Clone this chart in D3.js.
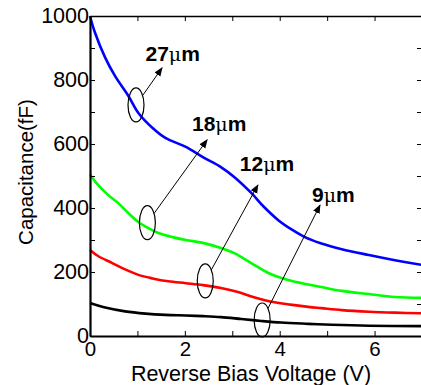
<!DOCTYPE html>
<html>
<head>
<meta charset="utf-8">
<script src="https://cdn.jsdelivr.net/npm/d3@7"></script>
<style>
  body { margin: 0; background: #fff; }
  svg { display: block; }
  text { font-family: "Liberation Sans", Arial, sans-serif; }
</style>
</head>
<body>
<div id="chart"></div>
<script>
// data (V, fF)
const voltsBlue  = [0, 0.1, 0.32, 0.53, 0.81, 1.02, 1.32, 1.59, 2.02, 2.38, 2.76, 3.04, 3.4, 3.67, 3.97, 4.25, 4.52, 4.88, 5.31, 5.88, 6.43, 7];
const capBlue    = [1000, 950, 870, 812, 750, 697, 650, 619, 591, 559, 528, 497, 447, 403, 362, 333, 310, 289, 271, 253, 237, 222];

const voltsGreen = [0, 0.17, 0.38, 0.59, 0.81, 1.02, 1.23, 1.44, 1.74, 2.02, 2.38, 2.76, 3.04, 3.4, 3.76, 4.18, 4.6, 4.88, 5.31, 5.88, 6.43, 7];
const capGreen   = [505, 472, 441, 416, 384, 356, 337, 322, 309, 300, 291, 275, 259, 228, 197, 175, 161, 153, 141, 131, 122, 119];

const voltsRed   = [0, 0.17, 0.47, 0.74, 1.02, 1.32, 1.65, 2.02, 2.38, 2.76, 3.1, 3.44, 3.8, 4.22, 4.6, 4.88, 5.31, 5.88, 6.43, 7];
const capRed     = [269, 250, 228, 208, 191, 180, 171, 165, 159, 150, 138, 122, 108, 98, 91, 87, 81, 76, 73, 71];

const voltsBlack = [0, 0.32, 0.74, 1.17, 1.59, 2.02, 2.38, 2.76, 3.19, 3.61, 4.03, 4.6, 5.1, 5.88, 7];
const capBlack   = [103, 89, 77, 70, 66, 64, 62, 59, 53, 47, 42, 38, 35, 32, 31];

const seriesColors = ["#0000ff", "#00ff00", "#ff0000", "#000000"];

// annotations: label, ellipse centre (V, fF), arrow head (V, fF), label anchor (V, fF)
const annoLabels = ["27", "18", "12", "9"];
const annoEllipse = [[0.97, 722], [1.21, 354], [2.43, 172], [3.63, 50]];
const annoArrow   = [[1.52, 838], [2.47, 613], [3.54, 472], [4.85, 409]];
const annoText    = [[1.17, 860], [2.15, 641], [3.16, 517], [4.68, 419]];

const xTicks = [0, 1, 2, 3, 4, 5, 6, 7];
const yTicks = [0, 100, 200, 300, 400, 500, 600, 700, 800, 900, 1000];

const W = 421, H = 385;
const x = d3.scaleLinear().domain([0, 7]).range([90, 422]);
const y = d3.scaleLinear().domain([0, 1000]).range([336, 16]);

const svg = d3.select("#chart").append("svg")
  .attr("width", W).attr("height", H);

// defs for arrow head
svg.append("defs").append("marker")
  .attr("id", "head")
  .attr("viewBox", "0 0 10 10")
  .attr("refX", 9).attr("refY", 5)
  .attr("markerWidth", 9).attr("markerHeight", 9)
  .attr("markerUnits", "userSpaceOnUse")
  .attr("orient", "auto")
  .append("path").attr("d", "M0,1 L10,5 L0,9 Z").attr("fill", "#000");

/////////////////////// curves
const series = [
  [voltsBlue, capBlue], [voltsGreen, capGreen], [voltsRed, capRed], [voltsBlack, capBlack]
];
const line = d3.line().x(d => x(d[0])).y(d => y(d[1])).curve(d3.curveCatmullRom.alpha(0.5));
series.forEach((s, i) => {
  svg.append("path")
    .datum(s[0].map((v, j) => [v, s[1][j]]))
    .attr("d", line)
    .attr("fill", "none")
    .attr("stroke", seriesColors[i])
    .attr("stroke-width", 2.6)
    .attr("stroke-linejoin", "round");
});

/////////////////////// axes
const xAxis = svg.append("g").attr("transform", `translate(0,${y(0)})`)
  .call(d3.axisBottom(x).tickValues(xTicks).tickSizeInner(-5).tickSizeOuter(0)
    .tickFormat(d => d % 2 === 0 ? d : ""));
xAxis.select(".domain").attr("stroke-width", 2.2);
xAxis.selectAll(".tick text").attr("font-size", 20.5).attr("dy", "0.75em").attr("y", 5).attr("fill", "#000");

const yAxis = svg.append("g").attr("transform", `translate(${x(0)},0)`)
  .call(d3.axisLeft(y).tickValues(yTicks).tickSizeInner(-5).tickSizeOuter(0)
    .tickFormat(d => d % 200 === 0 ? d : ""));
yAxis.select(".domain").attr("stroke-width", 2.2);
yAxis.selectAll(".tick text").attr("font-size", 21.5).attr("x", -1).attr("fill", "#000");

// top and right frame
const topAxis = svg.append("g").attr("transform", `translate(0,${y(1000)})`)
  .call(d3.axisTop(x).tickValues(xTicks).tickSizeInner(-5).tickSizeOuter(0).tickFormat(""));
topAxis.select(".domain").attr("stroke-width", 1.6);
const rightAxis = svg.append("g").attr("transform", `translate(${x(7)},0)`)
  .call(d3.axisRight(y).tickValues(yTicks).tickSizeInner(-5).tickSizeOuter(0).tickFormat(""));
rightAxis.select(".domain").attr("stroke-width", 1.6);

/////////////////////// labels
svg.append("text")
  .attr("x", 251).attr("y", 381)
  .attr("text-anchor", "middle")
  .attr("font-size", 21.5)
  .text("Reverse Bias Voltage (V)");

svg.append("text")
  .attr("transform", "translate(33,172) rotate(-90)")
  .attr("text-anchor", "middle")
  .attr("font-size", 20.5)
  .text("Capacitance(fF)");

/////////////////////// annotations
const rx = 8, ry = 17;
annoLabels.forEach((lab, i) => {
  const cx = x(annoEllipse[i][0]), cy = y(annoEllipse[i][1]);
  const ax = x(annoArrow[i][0]), ay = y(annoArrow[i][1]);
  svg.append("ellipse")
    .attr("cx", cx).attr("cy", cy).attr("rx", rx).attr("ry", ry)
    .attr("fill", "none").attr("stroke", "#000").attr("stroke-width", 1.2);
  const dx = ax - cx, dy = ay - cy;
  const s = 1 / Math.sqrt((dx / rx) ** 2 + (dy / ry) ** 2);
  svg.append("line")
    .attr("x1", cx + dx * s).attr("y1", cy + dy * s)
    .attr("x2", ax).attr("y2", ay)
    .attr("stroke", "#000").attr("stroke-width", 1)
    .attr("marker-end", "url(#head)");
  const t = svg.append("text")
    .attr("x", x(annoText[i][0])).attr("y", y(annoText[i][1]))
    .attr("font-size", 21).attr("font-weight", "bold");
  t.append("tspan").text(lab);
  t.append("tspan").attr("font-weight", "normal").attr("font-family", "DejaVu Serif").attr("font-size", 19).text("μ");
  t.append("tspan").text("m");
});
</script>
</body>
</html>
